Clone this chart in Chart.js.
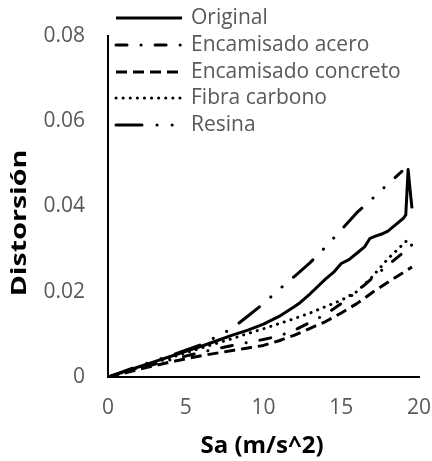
<!DOCTYPE html>
<html>
<head>
<meta charset="utf-8">
<script src="https://cdn.jsdelivr.net/npm/chart.js@4.4.1/dist/chart.umd.min.js"></script>
<style>
  html, body { margin: 0; padding: 0; background: #fff; }
</style>
</head>
<body>
<canvas id="distorsion-chart" width="432" height="461"></canvas>
<script>
// Series (Sa in m/s^2 vs distorsion)
const seriesNames = ['Original', 'Encamisado acero', 'Encamisado concreto', 'Fibra carbono', 'Resina'];

const originalX = [0, 1, 2, 3, 4, 5, 6, 7, 8, 9, 10, 11, 12, 12.35, 13, 14, 14.5, 15, 15.5, 16, 16.5, 16.85, 17.2, 17.6, 18, 18.6, 19, 19.15, 19.3, 19.45, 19.55];
const originalY = [0, 0.0012, 0.0024, 0.0036, 0.0048, 0.006, 0.0072, 0.0085, 0.0098, 0.011, 0.0124, 0.0142, 0.0165, 0.0174, 0.0195, 0.023, 0.0245, 0.0266, 0.0275, 0.029, 0.0305, 0.0325, 0.033, 0.0335, 0.0342, 0.036, 0.0372, 0.038, 0.0486, 0.043, 0.0395];

const aceroX = [0, 2, 4, 6, 8, 9, 10, 11, 12, 13, 14, 15, 16, 17, 18, 19, 19.55];
const aceroY = [0, 0.002, 0.004, 0.0058, 0.0074, 0.0081, 0.0088, 0.0096, 0.011, 0.0128, 0.0147, 0.0172, 0.02, 0.0232, 0.0262, 0.0292, 0.031];

const concretoX = [0, 2, 4, 6, 8, 9, 10, 11, 12, 13, 14, 15, 16, 17, 18, 19, 19.55];
const concretoY = [0, 0.0018, 0.0035, 0.005, 0.0062, 0.0068, 0.0074, 0.0085, 0.0098, 0.0114, 0.013, 0.015, 0.0172, 0.0198, 0.0222, 0.0245, 0.0258];

const fibraX = [0, 2, 4, 6, 8, 9, 10, 11, 12, 13, 14, 15, 16, 17, 18, 19, 19.4];
const fibraY = [0, 0.0022, 0.0045, 0.0068, 0.009, 0.0102, 0.0113, 0.0125, 0.0137, 0.015, 0.0165, 0.018, 0.02, 0.0235, 0.0277, 0.0312, 0.0326];

const resinaX = [0, 1, 2, 3, 4, 5, 6, 7, 8, 9, 10, 11, 12, 13, 14, 15, 16, 17, 18, 18.9];
const resinaY = [0, 0.0013, 0.0026, 0.0038, 0.005, 0.0063, 0.0076, 0.0095, 0.0114, 0.0143, 0.0172, 0.0205, 0.0236, 0.0268, 0.0305, 0.0345, 0.0385, 0.0418, 0.0452, 0.0482];

const xTicks = [0, 5, 10, 15, 20];
const yTicks = [0, 0.02, 0.04, 0.06, 0.08];

const GREY = '#595959';
const FONT = "'Open Sans', sans-serif";

function toPoints(xs, ys) {
  return xs.map((x, i) => ({x: x, y: ys[i]}));
}

function makeDataset(label, xs, ys, dash, cap, width) {
  return {
    label: label,
    data: toPoints(xs, ys),
    borderColor: '#000',
    backgroundColor: '#000',
    borderWidth: width,
    borderDash: dash,
    borderCapStyle: cap,
    borderJoinStyle: 'round',
    pointRadius: 0,
    pointHoverRadius: 0,
    tension: 0,
    fill: false
  };
}

// legend drawn inside the plot, top left, like the original
const insideLegend = {
  id: 'insideLegend',
  afterDatasetsDraw(chart) {
    const ctx = chart.ctx;
    const rows = [18, 45, 72, 98, 125];
    chart.data.datasets.forEach((ds, i) => {
      ctx.save();
      ctx.strokeStyle = '#000';
      ctx.lineWidth = ds.borderWidth;
      ctx.lineCap = ds.borderCapStyle;
      ctx.setLineDash(ds.borderDash);
      ctx.beginPath();
      ctx.moveTo(116, rows[i]);
      ctx.lineTo(182, rows[i]);
      ctx.stroke();
      ctx.setLineDash([]);
      ctx.fillStyle = GREY;
      ctx.font = '21px ' + FONT;
      ctx.textBaseline = 'middle';
      ctx.textAlign = 'left';
      ctx.fillText(ds.label, 191, rows[i]);
      ctx.restore();
    });
  }
};

// axis titles: the original's bold titles are wider than the font allows, so stretch them
function drawTitle(ctx, text, x, y, angle, size, stretch) {
  ctx.save();
  ctx.translate(x, y);
  ctx.rotate(angle);
  ctx.scale(stretch, 1);
  ctx.fillStyle = '#000';
  ctx.font = 'bold ' + size + 'px ' + FONT;
  ctx.textAlign = 'center';
  ctx.textBaseline = 'middle';
  ctx.fillText(text, 0, 0);
  ctx.restore();
}

const axisTitles = {
  id: 'axisTitles',
  afterDraw(chart) {
    drawTitle(chart.ctx, 'Sa (m/s^2)', 262, 446, 0, 24, 1.0);
    drawTitle(chart.ctx, 'Distorsión', 20, 223, -Math.PI / 2, 22, 1.3);
  }
};

const datasets = [
  makeDataset(seriesNames[0], originalX, originalY, [], 'butt', 3),
  makeDataset(seriesNames[1], aceroX, aceroY, [11, 14, 0.1, 14], 'round', 3),
  makeDataset(seriesNames[2], concretoX, concretoY, [11, 6], 'butt', 3),
  makeDataset(seriesNames[3], fibraX, fibraY, [0.1, 7], 'round', 3),
  makeDataset(seriesNames[4], resinaX, resinaY, [26, 15, 0.1, 15, 0.1, 15], 'round', 3)
];

const chart = new Chart(document.getElementById('distorsion-chart'), {
  type: 'line',
  data: {datasets: datasets},
  plugins: [insideLegend, axisTitles],
  options: {
    responsive: false,
    animation: false,
    devicePixelRatio: 1,
    layout: {padding: {left: 0, right: 13, top: 33, bottom: 0}},
    plugins: {
      legend: {display: false},
      tooltip: {enabled: false}
    },
    scales: {
      x: {
        type: 'linear',
        min: 0,
        max: 20,
        afterBuildTicks: axis => { axis.ticks = xTicks.map(v => ({value: v})); },
        afterFit: axis => {
          axis.height = 84;
          axis.paddingLeft = 0;
          axis.paddingRight = 0;
        },
        grid: {display: false, drawTicks: false},
        border: {display: true, color: '#000', width: 2},
        ticks: {color: GREY, font: {family: FONT, size: 21}, padding: 18, maxRotation: 0}
      },
      y: {
        type: 'linear',
        min: 0,
        max: 0.08,
        afterBuildTicks: axis => { axis.ticks = yTicks.map(v => ({value: v})); },
        afterFit: axis => { axis.width = 108; },
        grid: {display: false, drawTicks: false},
        border: {display: true, color: '#000', width: 2},
        ticks: {
          color: GREY,
          font: {family: FONT, size: 21},
          padding: 23,
          callback: v => (v === 0 ? '0' : v.toFixed(2))
        }
      }
    }
  }
});
</script>
</body>
</html>
